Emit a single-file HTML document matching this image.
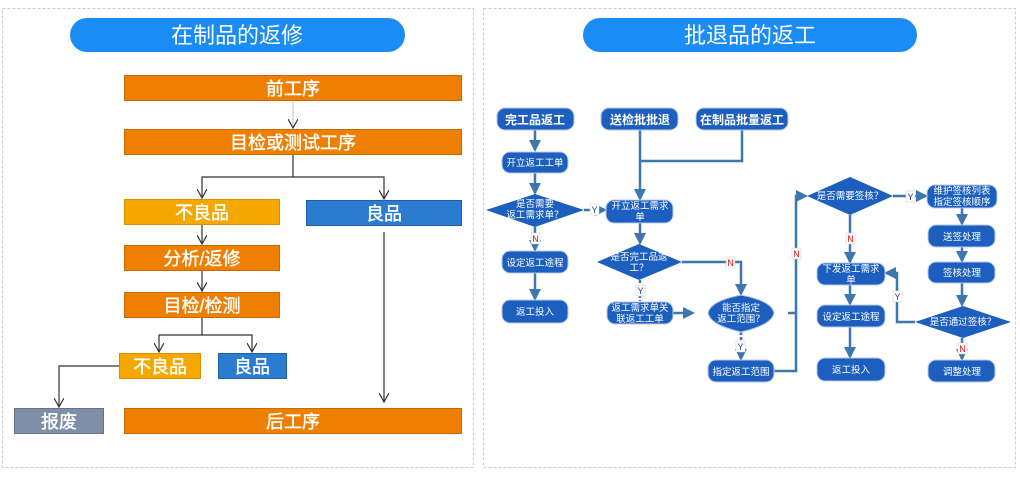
<!DOCTYPE html>
<html><head><meta charset="utf-8"><style>
html,body{margin:0;padding:0;background:#fff;}
svg{display:block;font-family:"Liberation Sans","Noto Sans CJK SC",sans-serif;}
</style></head><body>
<svg width="1020" height="500" viewBox="0 0 1020 500" xmlns="http://www.w3.org/2000/svg">
<defs>
<marker id="oa" markerWidth="10" markerHeight="10" refX="9" refY="5" orient="auto" markerUnits="userSpaceOnUse" viewBox="0 0 10 10"><path d="M0,0 L9,5 L0,10" fill="none" stroke="#333" stroke-width="1.2"/></marker>
<marker id="ba" markerWidth="12" markerHeight="12" refX="10" refY="6" orient="auto" markerUnits="userSpaceOnUse" viewBox="0 0 12 12"><path d="M0,0 L12,6 L0,12 z" fill="#3d77ad"/></marker>
</defs>
<rect x="2.5" y="8.5" width="471" height="459" fill="none" stroke="#ccc" stroke-dasharray="3,2"/>
<rect x="483.5" y="8.5" width="532" height="459" fill="none" stroke="#ccc" stroke-dasharray="3,2"/>
<rect x="70" y="18" width="335" height="34" rx="17" fill="#1a8cf5"/>
<text x="237" y="43" font-size="22" fill="#fff" text-anchor="middle">在制品的返修</text>
<rect x="583" y="18" width="334" height="34" rx="17" fill="#1a8cf5"/>
<text x="750" y="43" font-size="22" fill="#fff" text-anchor="middle">批退品的返工</text>

<g stroke-width="1" font-size="18" fill="#fff" text-anchor="middle">
<rect x="124.5" y="75.5" width="337" height="25" fill="#ee7f00" stroke="#c96a00"/>
<rect x="124.5" y="129.5" width="337" height="25" fill="#ee7f00" stroke="#c96a00"/>
<rect x="124.5" y="199.5" width="155" height="25" fill="#f5a800" stroke="#d99000"/>
<rect x="306.5" y="200.5" width="155" height="25" fill="#2b7bd0" stroke="#1d5fa8"/>
<rect x="124.5" y="245.5" width="155" height="25" fill="#ee7f00" stroke="#c96a00"/>
<rect x="124.5" y="292.5" width="155" height="25" fill="#ee7f00" stroke="#c96a00"/>
<rect x="119.5" y="353.5" width="81" height="25" fill="#f5a800" stroke="#d99000"/>
<rect x="218.5" y="353.5" width="68" height="25" fill="#2b7bd0" stroke="#1d5fa8"/>
<rect x="14.5" y="408.5" width="89" height="25" fill="#7f8fa8" stroke="#66758c"/>
<rect x="124.5" y="408.5" width="337" height="25" fill="#ee7f00" stroke="#c96a00"/>
<g stroke="#fff" stroke-width="0.4">
<text x="293" y="95">前工序</text>
<text x="293" y="149">目检或测试工序</text>
<text x="202" y="219">不良品</text>
<text x="384" y="220">良品</text>
<text x="202" y="265">分析/返修</text>
<text x="202" y="312">目检/检测</text>
<text x="160" y="373">不良品</text>
<text x="252" y="373">良品</text>
<text x="59" y="428">报废</text>
<text x="293" y="428">后工序</text>
</g></g>
<g stroke="#333" stroke-width="1.2" fill="none">
<line x1="293" y1="101" x2="293" y2="128" stroke="#ccc" marker-end="url(#oa)"/>
<polyline points="293,155 293,177 202,177 202,198" marker-end="url(#oa)"/>
<polyline points="293,177 384,177 384,199" marker-end="url(#oa)"/>
<line x1="202" y1="225" x2="202" y2="244" marker-end="url(#oa)"/>
<line x1="202" y1="271" x2="202" y2="291" marker-end="url(#oa)"/>
<polyline points="202,318 202,335 159,335 159,352" marker-end="url(#oa)"/>
<polyline points="202,335 252,335 252,352" marker-end="url(#oa)"/>
<polyline points="119,366 59,366 59,407" marker-end="url(#oa)"/>
<line x1="384" y1="232" x2="384" y2="402" marker-end="url(#oa)"/>
</g>

<g stroke="#3d77ad" stroke-width="2.5" fill="none">
<line x1="535" y1="130" x2="535" y2="150" marker-end="url(#ba)"/>
<line x1="535" y1="173" x2="535" y2="193" marker-end="url(#ba)"/>
<line x1="584" y1="210" x2="605" y2="210" marker-end="url(#ba)"/>
<line x1="535" y1="227" x2="535" y2="250" marker-end="url(#ba)"/>
<line x1="535" y1="273" x2="535" y2="299" marker-end="url(#ba)"/>
<line x1="640" y1="130" x2="640" y2="199" marker-end="url(#ba)"/>
<polyline points="742,130 742,161 640,161"/>
<line x1="640" y1="223" x2="640" y2="243" marker-end="url(#ba)"/>
<line x1="640" y1="280" x2="640" y2="301" stroke-dasharray="3,2"/>
<polyline points="682,262 741,262 741,294" marker-end="url(#ba)"/>
<line x1="673" y1="313" x2="693" y2="313" marker-end="url(#ba)"/>
<line x1="741" y1="332" x2="741" y2="359" stroke-dasharray="3,2" marker-end="url(#ba)"/>
<polyline points="774,371 796,371 796,196 806,196" marker-end="url(#ba)"/>
<line x1="788" y1="313" x2="796" y2="313"/>
<line x1="850" y1="215" x2="850" y2="262" marker-end="url(#ba)"/>
<line x1="893" y1="196" x2="926" y2="196" marker-end="url(#ba)"/>
<line x1="962" y1="208" x2="962" y2="224" marker-end="url(#ba)"/>
<line x1="962" y1="247" x2="962" y2="261" marker-end="url(#ba)"/>
<line x1="962" y1="283" x2="962" y2="305" marker-end="url(#ba)"/>
<line x1="962" y1="338" x2="962" y2="359" marker-end="url(#ba)"/>
<polyline points="915,322 897,322 897,273 886,273" marker-end="url(#ba)"/>
<line x1="850" y1="285" x2="850" y2="304" marker-end="url(#ba)"/>
<line x1="850" y1="327" x2="850" y2="357" marker-end="url(#ba)"/>
</g>

<g fill="#1d5fbf" stroke="#b9c9ee" stroke-width="1">
<rect x="497" y="108" width="77" height="22" rx="8"/>
<rect x="601" y="108" width="77" height="22" rx="8"/>
<rect x="696" y="108" width="92" height="22" rx="8"/>
<rect x="502" y="152" width="66" height="21" rx="8"/>
<rect x="502" y="251" width="66" height="22" rx="8"/>
<rect x="502" y="300" width="66" height="23" rx="8"/>
<rect x="606" y="200" width="67" height="23" rx="8"/>
<rect x="607" y="302" width="66" height="22" rx="8"/>
<rect x="708" y="360" width="66" height="22" rx="8"/>
<rect x="927" y="185" width="70" height="23" rx="8"/>
<rect x="928" y="225" width="67" height="22" rx="8"/>
<rect x="928" y="262" width="67" height="21" rx="8"/>
<rect x="928" y="360" width="67" height="22" rx="8"/>
<rect x="817" y="263" width="68" height="22" rx="8"/>
<rect x="817" y="305" width="68" height="22" rx="8"/>
<rect x="817" y="358" width="68" height="23" rx="8"/>
<polygon points="486,210 535,194 584,210 535,227" stroke="none"/>
<polygon points="597,262 639,244 682,262 639,280" stroke="none"/>
<path d="M708,313 Q710,301 741,295 Q772,301 774,313 Q772,325 741,332 Q710,325 708,313z"/>
<polygon points="807,196 850,177 893,196 850,215" stroke="none"/>
<polygon points="915,322 963,306 1011,322 963,338" stroke="none"/>
</g>
<g fill="#fff" text-anchor="middle" font-size="12" font-weight="bold">
<text x="535" y="124">完工品返工</text>
<text x="640" y="124">送检批批退</text>
<text x="742" y="124">在制品批量返工</text>
</g>
<g fill="#fff" text-anchor="middle" font-size="9.5">
<text x="535" y="166">开立返工工单</text>
<text x="535" y="207">是否需要</text><text x="535" y="218">返工需求单？</text>
<text x="535" y="266">设定返工途程</text>
<text x="535" y="315">返工投入</text>
<text x="640" y="209">开立返工需求</text><text x="640" y="220">单</text>
<text x="639" y="260">是否完工品返</text><text x="639" y="271">工？</text>
<text x="640" y="311">返工需求单关</text><text x="640" y="322">联返工工单</text>
<text x="741" y="311">能否指定</text><text x="741" y="322">返工范围？</text>
<text x="741" y="375">指定返工范围</text>
<text x="850" y="199">是否需要签核？</text>
<text x="962" y="194">维护签核列表</text><text x="962" y="205">指定签核顺序</text>
<text x="962" y="240">送签处理</text>
<text x="962" y="276">签核处理</text>
<text x="963" y="325">是否通过签核？</text>
<text x="962" y="375">调整处理</text>
<text x="851" y="272">下发返工需求</text><text x="851" y="283">单</text>
<text x="851" y="320">设定返工途程</text>
<text x="851" y="373">返工投入</text>
</g>
<g font-size="9" text-anchor="middle">
<g fill="#fff" stroke="#ccc" stroke-width="0.5">
<rect x="590" y="204" width="9" height="11"/><rect x="531" y="233" width="9" height="11"/>
<rect x="726" y="257" width="9" height="11"/><rect x="636" y="285" width="9" height="11"/>
<rect x="736" y="341" width="9" height="11"/><rect x="792" y="248" width="9" height="11"/>
<rect x="846" y="233" width="9" height="11"/><rect x="906" y="191" width="9" height="11"/>
<rect x="893" y="291" width="9" height="11"/><rect x="958" y="343" width="9" height="11"/>
</g>
<g fill="#2a3a8a"><text x="594.5" y="213">Y</text><text x="640.5" y="294">Y</text><text x="740.5" y="350">Y</text><text x="910.5" y="200">Y</text><text x="897.5" y="300">Y</text></g>
<g fill="#e01010"><text x="535.5" y="242">N</text><text x="730.5" y="266">N</text><text x="796.5" y="257">N</text><text x="850.5" y="242">N</text><text x="962.5" y="352">N</text></g>
</g>
</svg>
</body></html>
